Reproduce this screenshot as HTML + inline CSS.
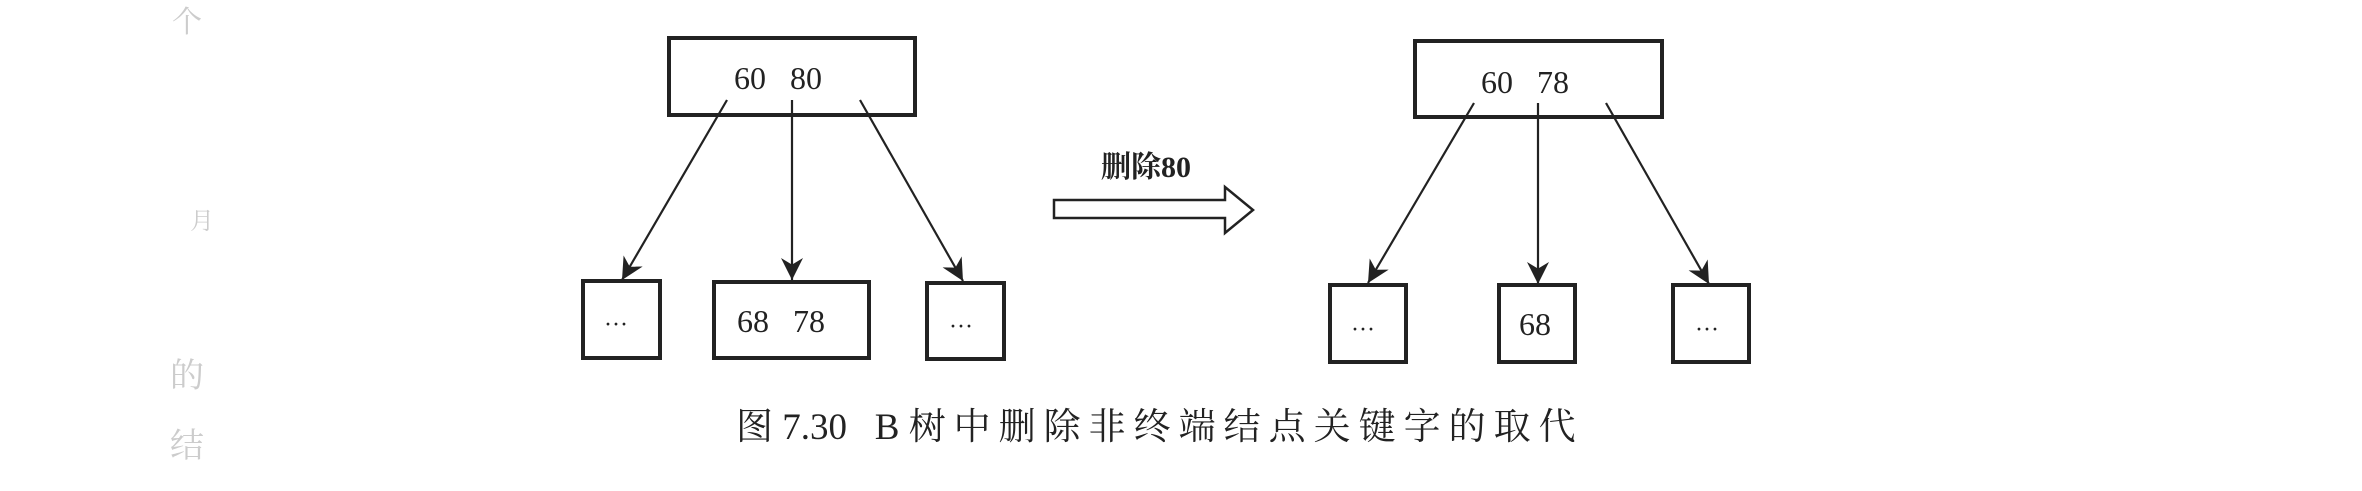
<!DOCTYPE html>
<html><head><meta charset="utf-8"><style>
html,body{margin:0;padding:0;background:#fff;}
body{width:2362px;height:491px;position:relative;overflow:hidden;font-family:"Liberation Serif","Noto Serif CJK SC",serif;color:#222;}
.t{position:absolute;white-space:nowrap;line-height:1;}
</style></head><body>
<svg width="2362" height="491" style="position:absolute;left:0;top:0">
<defs><marker id="a" viewBox="0 0 10 10" refX="10" refY="5" markerWidth="22" markerHeight="22" markerUnits="userSpaceOnUse" orient="auto"><path d="M0,0 L10,5 L0,10 L3,5 Z" fill="#222"/></marker></defs>
<g fill="none" stroke="#222" stroke-width="4">
<rect x="669" y="38" width="246" height="77"/>
<rect x="583" y="281" width="77" height="77"/>
<rect x="714" y="282" width="155" height="76"/>
<rect x="927" y="283" width="77" height="76"/>
<rect x="1415" y="41" width="247" height="76"/>
<rect x="1330" y="285" width="76" height="77"/>
<rect x="1499" y="285" width="76" height="77"/>
<rect x="1673" y="285" width="76" height="77"/>
</g>
<g stroke="#222" stroke-width="2.2" fill="none" marker-end="url(#a)">
<line x1="727" y1="100" x2="622" y2="280"/>
<line x1="792" y1="100" x2="792" y2="280"/>
<line x1="860" y1="100" x2="963" y2="281"/>
<line x1="1474" y1="103" x2="1368" y2="283"/>
<line x1="1538" y1="103" x2="1538" y2="284"/>
<line x1="1606" y1="103" x2="1709" y2="284"/>
</g>
<path d="M1054,200 L1225,200 L1225,187 L1253,210 L1225,233 L1225,218 L1054,218 Z" fill="#fff" stroke="#222" stroke-width="2.5"/>
</svg>
<div class="t" style="left:734px;top:62px;font-size:32px;">60&nbsp;&nbsp;&nbsp;80</div>
<div class="t" style="left:1481px;top:66px;font-size:32px;">60&nbsp;&nbsp;&nbsp;78</div>
<div class="t" style="left:737px;top:305px;font-size:32px;">68&nbsp;&nbsp;&nbsp;78</div>
<div class="t" style="left:1519px;top:308px;font-size:32px;">68</div>
<div class="t" style="left:604px;top:313px;font-size:24px;">···</div>
<div class="t" style="left:949px;top:315px;font-size:24px;">···</div>
<div class="t" style="left:1351px;top:318px;font-size:24px;">···</div>
<div class="t" style="left:1695px;top:318px;font-size:24px;">···</div>
<div class="t" style="left:1101px;top:153px;font-size:30px;font-weight:bold;">删除80</div>
<div class="t" style="left:736px;top:409px;font-size:37px;">图 7.30&nbsp;&nbsp;&nbsp;B <span style="letter-spacing:8px">树中删除非终端结点关键字的取代</span></div>
<div class="t" style="left:172px;top:8px;font-size:30px;color:#ccc;">个</div>
<div class="t" style="left:190px;top:210px;font-size:24px;color:#ccc;">月</div>
<div class="t" style="left:170px;top:360px;font-size:34px;color:#ccc;">的</div>
<div class="t" style="left:170px;top:430px;font-size:34px;color:#ccc;">结</div>
</body></html>
